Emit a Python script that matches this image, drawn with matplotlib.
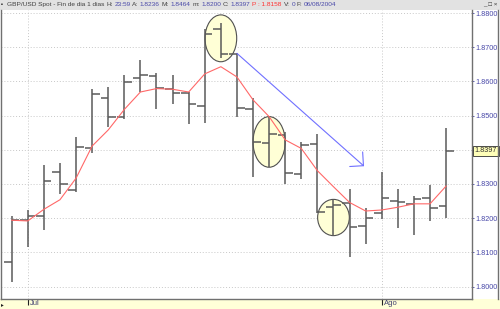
import numpy as np
import matplotlib.pyplot as plt
from matplotlib.patches import Ellipse, Rectangle
from matplotlib.lines import Line2D

plt.rcParams['font.family'] = ['Liberation Sans', 'DejaVu Sans']

# dias de cotizacion (30/06/2004 - 06/08/2004)
dates = ['30/06', '01/07', '02/07', '05/07', '06/07', '07/07', '08/07', '09/07',
         '12/07', '13/07', '14/07', '15/07', '16/07', '19/07', '20/07', '21/07',
         '22/07', '23/07', '26/07', '27/07', '28/07', '29/07', '30/07',
         '02/08', '03/08', '04/08', '05/08', '06/08']
month_names = {'07': 'Jul', '08': 'Ago'}

opens = [1.8072, 1.8194, 1.8207, 1.8334, 1.8281, 1.8404, 1.8552, 1.8495,
         1.8611, 1.8616, 1.8578, 1.8567, 1.8529, 1.8752, 1.8680, 1.8518,
         1.8421, 1.8443, 1.8328, 1.8416, 1.8232, 1.8245, 1.8177, 1.8216,
         1.8251, 1.8241, 1.8258, 1.8236]
highs = [1.8206, 1.8224, 1.8355, 1.8362, 1.8438, 1.8577, 1.8583, 1.8619,
         1.8663, 1.8624, 1.8618, 1.8570, 1.8752, 1.8770, 1.8684, 1.8551,
         1.8497, 1.8451, 1.8424, 1.8445, 1.8253, 1.8285, 1.8231, 1.8336,
         1.8285, 1.8265, 1.8296, 1.8464]
lows = [1.8013, 1.8117, 1.8165, 1.8270, 1.8277, 1.8392, 1.8468, 1.8489,
        1.8570, 1.8518, 1.8534, 1.8475, 1.8479, 1.8668, 1.8495, 1.8321,
        1.8351, 1.8300, 1.8314, 1.8214, 1.8148, 1.8087, 1.8124, 1.8197,
        1.8172, 1.8150, 1.8192, 1.8200]
closes = [1.8194, 1.8207, 1.8310, 1.8300, 1.8407, 1.8563, 1.8495, 1.8597,
          1.8619, 1.8580, 1.8567, 1.8533, 1.8739, 1.8680, 1.8522, 1.8423,
          1.8446, 1.8331, 1.8414, 1.8219, 1.8240, 1.8173, 1.8201, 1.8260,
          1.8246, 1.8256, 1.8231, 1.8397]
# media movil (linea roja)
ma = [1.8194, 1.8192, 1.8226, 1.8254, 1.8317, 1.8411, 1.8458, 1.8518,
      1.8569, 1.8579, 1.8577, 1.8569, 1.8622, 1.8643, 1.8613, 1.8546,
      1.8497, 1.8429, 1.8404, 1.8339, 1.8292, 1.8246, 1.8221, 1.8224,
      1.8232, 1.8242, 1.8242, 1.8294]

# anotaciones: elipses y flecha de tendencia
ell_x = [13, 16, 20]
ell_y = [1.8726, 1.8423, 1.8202]
ell_w = [1.97, 2.0, 1.97]
ell_h = [0.0137, 0.0148, 0.0106]
arrow_from = (14, 1.8682)
arrow_to = (21.9, 1.8352)

yticks = [1.80, 1.81, 1.82, 1.83, 1.84, 1.85, 1.86, 1.87, 1.88]

title_parts = [('GBP/USD Spot - Fin de dia 1 dias', '#404040'),
               ('H:', '#404040'), ('23:59', '#4848A8'),
               ('A:', '#404040'), ('1.8236', '#4848A8'),
               ('M:', '#404040'), ('1.8464', '#4848A8'),
               ('m:', '#404040'), ('1.8200', '#4848A8'),
               ('C:', '#404040'), ('1.8397', '#4848A8'),
               ('P : 1.8158', '#FF3030'),
               ('V:', '#404040'), ('0', '#4848A8'),
               ('F:', '#404040'), ('06/08/2004', '#4848A8')]

W, H = 500, 309
fig = plt.figure(figsize=(5, 3.09), dpi=100)
fig.patch.set_facecolor('white')

# barra de titulo y barra inferior
fig.patches.append(Rectangle((0, 1 - 9.5 / H), 1, 9.5 / H, transform=fig.transFigure,
                             facecolor='#E2E2E2', edgecolor='none', zorder=-1))
fig.patches.append(Rectangle((0, 0), 1, 10 / H, transform=fig.transFigure,
                             facecolor='#FFFFD8', edgecolor='none', zorder=-1))

ax = fig.add_axes([1 / W, 10 / H, 471 / W, 289 / H])
n = len(opens)
x = np.arange(n)

ax.set_xlim(-0.665, 28.61)
ax.set_ylim(1.79637, 1.88088)

# elipses
for cx, cy, ew, eh in zip(ell_x, ell_y, ell_w, ell_h):
    ax.add_patch(Ellipse((cx, cy), ew, eh, facecolor='#FFFFD6', edgecolor='#505050',
                         lw=0.8, zorder=1))

# barras OHLC
tw = 0.47
bar_col = '#5A5A5A'
ax.vlines(x, lows, highs, color=bar_col, lw=1.1, zorder=3)
ax.hlines(opens, x - tw, x, color=bar_col, lw=1.1, zorder=3)
ax.hlines(closes, x, x + tw, color=bar_col, lw=1.1, zorder=3)

# media movil
ax.plot(x, ma, color='#FF6868', lw=0.8, zorder=4)

# flecha de tendencia
ax.annotate('', xy=arrow_to, xytext=arrow_from,
            arrowprops=dict(arrowstyle='->,head_length=0.7,head_width=0.7',
                            color='#7070FF', lw=0.8, shrinkA=0, shrinkB=0),
            zorder=4)

# eje x: meses
month_pos = [i for i in range(1, n) if dates[i][3:] != dates[i - 1][3:]]
month_lab = [month_names[dates[i][3:]] for i in month_pos]
ax.set_xticks(month_pos)
ax.set_xticklabels([])
ax.tick_params(axis='x', length=4.3, width=0.8, color='#202020')
for p, lab in zip(month_pos, month_lab):
    ax.annotate(lab, xy=(p, 0), xycoords=ax.get_xaxis_transform(),
                xytext=(1.6, -0.6), textcoords='offset points',
                ha='left', va='top', fontsize=5.5, color='#404070',
                annotation_clip=False)

# eje y a la derecha
ax.yaxis.tick_right()
ax.set_yticks(yticks)
ax.set_yticklabels(['%.4f' % v for v in yticks])
ax.tick_params(axis='y', length=1.6, width=0.6, color='#4848A8', pad=0.6,
               labelsize=5.2, labelcolor='#4848A8')

ax.grid(True, color='#C8C8C8', lw=0.7, linestyle=(0, (1, 2)), zorder=0)
ax.set_axisbelow(True)

for s in ['left', 'right', 'bottom']:
    ax.spines[s].set_color('#707070')
    ax.spines[s].set_linewidth(1.0)
ax.spines['top'].set_visible(False)

# precio actual
ax.text(1.006, closes[-1], '%.4f' % closes[-1], transform=ax.get_yaxis_transform(),
        fontsize=5.2, color='#303030', va='center', ha='left',
        bbox=dict(boxstyle='square,pad=0.2', facecolor='#FFFFB8', edgecolor='#303030', lw=0.6))

# borde derecho del panel de precios
fig.add_artist(Line2D([498 / W, 498 / W], [10 / H, 1 - 9.5 / H], color='#707070', lw=1.0))

# titulo por partes con colores
renderer = fig.canvas.get_renderer()
fs = 4.65
w1 = fig.text(0, 0, 'x x', fontsize=fs).get_window_extent(renderer).width
w2 = fig.text(0, 0, 'xx', fontsize=fs).get_window_extent(renderer).width
for t in fig.texts[-2:]:
    t.remove()
space = (w1 - w2) / W
tx = 7 / W
ty = 1 - 4.6 / H
for s, c in title_parts:
    t = fig.text(tx, ty, s, fontsize=fs, color=c, va='center', ha='left')
    tx += t.get_window_extent(renderer).width / W + space

fig.text(1 / W, ty, '\u25aa', fontsize=4, color='#202020', va='center', ha='left')
fig.text(497 / W, ty, '_ \u25a1 \u00d7', fontsize=4.5, color='#303030', va='center', ha='right')
fig.text(1 / W, 4.5 / H, '\u25b8', fontsize=4, color='#202020', va='center', ha='left')

fig.savefig('out.png', dpi=100)
